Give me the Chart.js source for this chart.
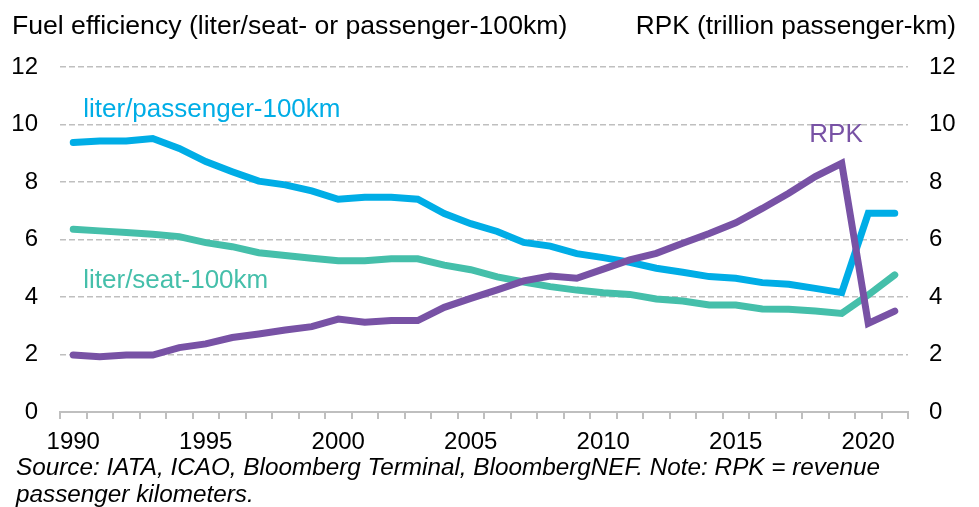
<!DOCTYPE html>
<html>
<head>
<meta charset="utf-8">
<title>Eficiencia de combustible y RPK</title>
<script src="https://cdn.jsdelivr.net/npm/chart.js@4.4.0/dist/chart.umd.min.js"></script>
<style>
  body { margin: 0; background: #fff; }
  #contenedor { position: relative; width: 979px; height: 507px; overflow: hidden; font-family: "Liberation Sans", Arial, sans-serif; color: #000; }
  #grafico { position: absolute; left: 0; top: 0; }
  .titulo { position: absolute; top: 10px; font-size: 26.6px; line-height: 30px; white-space: nowrap; }
  #tituloIzq { left: 12px; }
  #tituloDer { right: 23px; font-size: 26.2px; }
  #nota { position: absolute; left: 16px; top: 453px; font-size: 24.3px; line-height: 27px; font-style: italic; white-space: nowrap; }
</style>
</head>
<body>
<div id="contenedor">
  <canvas id="grafico" width="979" height="507"></canvas>
  <div class="titulo" id="tituloIzq">Fuel efficiency (liter/seat- or passenger-100km)</div>
  <div class="titulo" id="tituloDer">RPK (trillion passenger-km)</div>
  <div id="nota">Source: IATA, ICAO, Bloomberg Terminal, BloombergNEF. Note: RPK = revenue<br>passenger kilometers.</div>
</div>
<script>
//años del eje x
const anios = ["1990", "1991", "1992", "1993", "1994", "1995", "1996", "1997", "1998", "1999",
  "2000", "2001", "2002", "2003", "2004", "2005", "2006", "2007", "2008", "2009",
  "2010", "2011", "2012", "2013", "2014", "2015", "2016", "2017", "2018", "2019",
  "2020", "2021"];
//solo estos años llevan etiqueta
const aniosConEtiqueta = ["1990", "1995", "2000", "2005", "2010", "2015", "2020"];

//litros por pasajero cada 100km (eje izquierdo)
const litrosPasajero = [9.37, 9.43, 9.43, 9.51, 9.17, 8.71, 8.36, 8.03, 7.90, 7.69,
  7.40, 7.47, 7.47, 7.40, 6.90, 6.55, 6.28, 5.90, 5.77, 5.51,
  5.37, 5.21, 5.00, 4.86, 4.71, 4.65, 4.50, 4.44, 4.30, 4.15,
  6.91, 6.91];
//litros por asiento cada 100km (eje izquierdo)
const litrosAsiento = [6.36, 6.30, 6.24, 6.18, 6.10, 5.89, 5.75, 5.54, 5.44, 5.35,
  5.26, 5.26, 5.33, 5.33, 5.11, 4.95, 4.70, 4.52, 4.36, 4.24,
  4.15, 4.09, 3.93, 3.86, 3.72, 3.72, 3.58, 3.57, 3.51, 3.43,
  4.07, 4.77];
//RPK en billones de pasajero-km (eje derecho)
const rpk = [1.98, 1.92, 1.98, 1.98, 2.24, 2.37, 2.59, 2.71, 2.85, 2.97,
  3.23, 3.12, 3.18, 3.18, 3.64, 3.95, 4.25, 4.56, 4.73, 4.65,
  4.97, 5.29, 5.52, 5.87, 6.21, 6.58, 7.08, 7.61, 8.19, 8.65,
  3.08, 3.51];

//limites de los dos ejes y
const ejeMin = 0;
const ejeMax = 12;
const ejePaso = 2;

const azul = "#00ADE6";
const verde = "#45BFAA";
const morado = "#7852A5";
const gris = "#BFBFBF";
const fuente = "'Liberation Sans', Arial, sans-serif";

//nombres de cada serie escritos junto a su linea
const etiquetasSeries = {
  id: "etiquetasSeries",
  afterDatasetsDraw(chart) {
    const { ctx, scales } = chart;
    const x = scales.x;
    const y = scales.y;
    ctx.save();
    ctx.font = "26px " + fuente;
    ctx.textBaseline = "middle";
    ctx.textAlign = "left";
    ctx.fillStyle = azul;
    ctx.fillText("liter/passenger-100km", x.getPixelForValue(0) + 10, y.getPixelForValue(10.5));
    ctx.fillStyle = verde;
    ctx.fillText("liter/seat-100km", x.getPixelForValue(0) + 10, y.getPixelForValue(4.57));
    ctx.fillStyle = morado;
    ctx.textAlign = "right";
    ctx.fillText("RPK", x.getPixelForValue(29) + 21, y.getPixelForValue(9.63));
    ctx.restore();
  }
};

//propiedades comunes de las lineas
function serie(datos, color, eje) {
  return {
    data: datos,
    borderColor: color,
    backgroundColor: color,
    borderWidth: 7,
    borderCapStyle: "round",
    pointRadius: 0,
    tension: 0,
    yAxisID: eje
  };
}

const config = {
  type: "line",
  data: {
    labels: anios,
    //la primera serie queda dibujada encima
    datasets: [
      serie(rpk, morado, "y2"),
      serie(litrosAsiento, verde, "y"),
      serie(litrosPasajero, azul, "y")
    ]
  },
  options: {
    responsive: false,
    animation: false,
    devicePixelRatio: 1,
    layout: { padding: { top: 67, bottom: 50, left: 0, right: 0 } },
    plugins: { legend: { display: false }, tooltip: { enabled: false } },
    scales: {
      x: {
        offset: true,
        grid: { offset: true, drawOnChartArea: false, drawTicks: true, tickLength: 7, color: gris, lineWidth: 2 },
        border: { color: gris, width: 2 },
        ticks: {
          autoSkip: false,
          maxRotation: 0,
          padding: 9,
          color: "#000",
          font: { size: 24, family: fuente },
          callback: function (valor) {
            const anio = this.getLabelForValue(valor);
            return aniosConEtiqueta.includes(anio) ? anio : "";
          }
        },
        afterFit: (eje) => { eje.height = 45; }
      },
      y: {
        position: "left",
        min: ejeMin,
        max: ejeMax,
        grid: { color: gris, lineWidth: 1.5, drawTicks: false },
        border: { display: false, dash: [6, 3] },
        ticks: { stepSize: ejePaso, padding: 22, color: "#000", font: { size: 24, family: fuente } },
        afterFit: (eje) => { eje.width = 60; }
      },
      y2: {
        position: "right",
        min: ejeMin,
        max: ejeMax,
        grid: { drawOnChartArea: false, drawTicks: false },
        border: { display: false },
        ticks: { stepSize: ejePaso, padding: 21, color: "#000", font: { size: 24, family: fuente } },
        afterFit: (eje) => { eje.width = 71; }
      }
    }
  },
  plugins: [etiquetasSeries]
};

const ctx = document.getElementById("grafico").getContext("2d");
new Chart(ctx, config);
</script>
</body>
</html>
